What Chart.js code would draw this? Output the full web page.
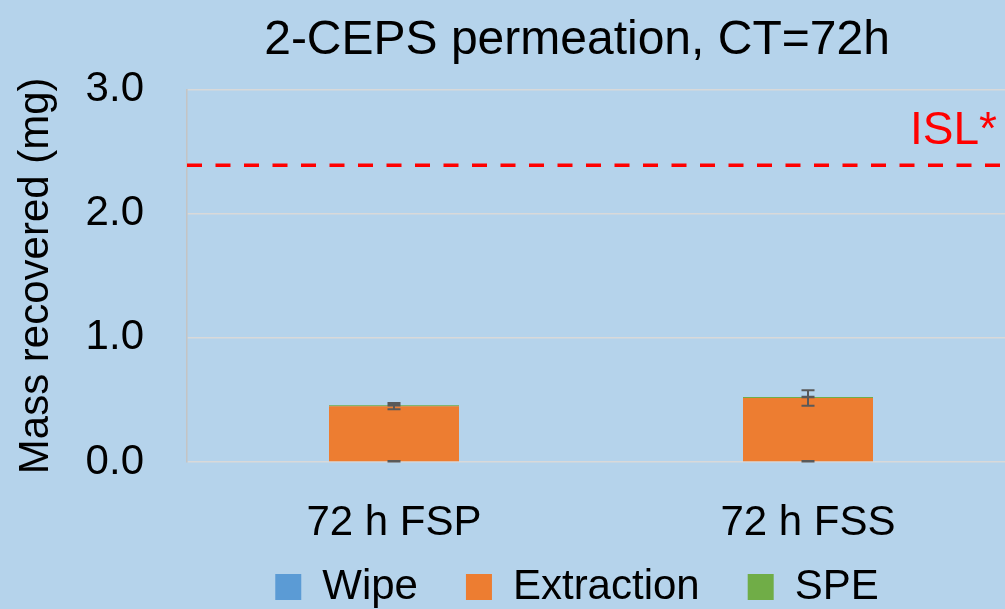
<!DOCTYPE html>
<html>
<head>
<meta charset="utf-8">
<script src="https://cdn.jsdelivr.net/npm/chart.js@4/dist/chart.umd.min.js"></script>
<style>
  html, body { margin: 0; padding: 0; overflow: hidden; background: #B5D3EB; }
  #wrap { width: 1005px; height: 609px; overflow: hidden; }
</style>
</head>
<body>
<div id="wrap"><canvas id="myChart" width="1154" height="652"></canvas></div>
<script>
// data
var categories = ['72 h FSP', '72 h FSS'];
var wipe = [0.006, 0.006];
var extraction = [0.444, 0.51];
var spe = [0.007, 0.008];
var wipeErr = [0.002, 0.002];
var extractionErr = [0.026, 0.062];
var speErr = [0.002, 0.002];
var islValue = 2.39;
var yMin = 0, yMax = 3, yStep = 1;

var FONT = '"Liberation Sans", Arial, sans-serif';
Chart.defaults.color = '#000';
Chart.defaults.font.family = FONT;

// error bars on top of each stacked piece
var errorBars = {
  id: 'errorBars',
  afterDatasetsDraw: function(chart){
    var ctx = chart.ctx, y = chart.scales.y;
    var errs = [wipeErr, extractionErr, speErr];
    ctx.save();
    ctx.strokeStyle = '#595959';
    ctx.lineWidth = 2;
    chart.data.datasets.forEach(function(ds, i){
      var meta = chart.getDatasetMeta(i);
      meta.data.forEach(function(bar, j){
        var top = 0;
        for (var k = 0; k <= i; k++) top += chart.data.datasets[k].data[j];
        var hi = y.getPixelForValue(top + errs[i][j]);
        var lo = y.getPixelForValue(top - errs[i][j]);
        var x = bar.x;
        ctx.beginPath();
        ctx.moveTo(x, hi); ctx.lineTo(x, lo);
        ctx.moveTo(x - 6.5, hi); ctx.lineTo(x + 6.5, hi);
        ctx.moveTo(x - 6.5, lo); ctx.lineTo(x + 6.5, lo);
        ctx.stroke();
      });
    });
    ctx.restore();
  }
};

// ISL reference line
var islLine = {
  id: 'islLine',
  afterDatasetsDraw: function(chart){
    var ctx = chart.ctx, a = chart.chartArea;
    var py = chart.scales.y.getPixelForValue(islValue);
    ctx.save();
    ctx.strokeStyle = '#FF0000';
    ctx.lineWidth = 3.5;
    ctx.setLineDash([15, 13.5]);
    ctx.beginPath();
    ctx.moveTo(a.left, py); ctx.lineTo(a.right, py);
    ctx.stroke();
    ctx.setLineDash([]);
    ctx.fillStyle = '#FF0000';
    ctx.font = '46px ' + FONT;
    ctx.textAlign = 'right';
    ctx.textBaseline = 'alphabetic';
    ctx.fillText('ISL*', a.right - 18, py - 21);
    ctx.restore();
  }
};

// pull the legend up closer to the axis labels
var legendUp = {
  id: 'legendUp',
  afterLayout: function(chart){
    var lg = chart.legend;
    var d = (chart.scales.x.top + 56) - lg.top;
    lg.top += d; lg.bottom += d;
  }
};

var ctx = document.getElementById('myChart').getContext('2d');
var myChart = new Chart(ctx, {
  type: 'bar',
  data: {
    labels: categories,
    datasets: [
      { label: 'Wipe', data: wipe, backgroundColor: '#5B9BD5' },
      { label: 'Extraction', data: extraction, backgroundColor: '#ED7D31' },
      { label: 'SPE', data: spe, backgroundColor: '#70AD47' }
    ]
  },
  options: {
    responsive: false,
    animation: false,
    layout: { padding: 0 },
    datasets: { bar: { categoryPercentage: 1, barPercentage: 0.314 } },
    plugins: {
      title: {
        display: true,
        text: '2-CEPS permeation, CT=72h',
        color: '#000',
        font: { size: 48, weight: 'normal' },
        padding: { top: 12, bottom: 20 }
      },
      legend: {
        position: 'bottom',
        labels: { boxWidth: 26, boxHeight: 26, padding: 48, font: { size: 42 }, color: '#000' }
      },
      tooltip: { enabled: false }
    },
    scales: {
      x: {
        stacked: true,
        grid: { display: false, drawTicks: false },
        border: { display: false },
        ticks: { padding: 36, font: { size: 42 } },
        afterFit: function(s){ s.height = 90; }
      },
      y: {
        stacked: true,
        min: yMin, max: yMax,
        ticks: { stepSize: yStep, padding: 43, font: { size: 42 },
          callback: function(v){ return v.toFixed(1); } },
        grid: { color: '#D9D9D9', lineWidth: 1.5, drawTicks: false },
        border: { color: '#C4C4C4', width: 1.5 },
        title: { display: true, text: 'Mass recovered (mg)', font: { size: 42 }, padding: { top: 11, bottom: 0 } },
        afterFit: function(s){ s.width = 187; }
      },
      yRight: {
        position: 'right',
        display: true,
        grid: { display: false, drawTicks: false },
        border: { display: false },
        ticks: { display: false },
        afterFit: function(s){ s.width = 139; }
      }
    }
  },
  plugins: [errorBars, islLine, legendUp]
});
</script>
</body>
</html>
